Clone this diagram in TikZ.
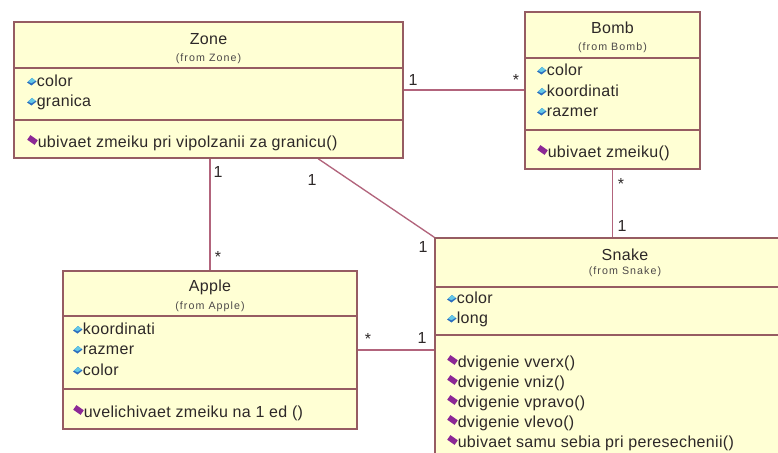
\documentclass[tikz,border=0pt]{standalone}
\usepackage{fontspec}
\setmainfont{Liberation Sans}
\usetikzlibrary{calc,backgrounds}
\definecolor{boxfill}{RGB}{255,255,212}
\definecolor{boxline}{RGB}{150,92,98}
\definecolor{assoc}{RGB}{178,100,124}
\definecolor{attrblue}{RGB}{45,110,190}
\definecolor{attrlight}{RGB}{100,200,230}
\definecolor{methpurple}{RGB}{140,40,150}
\definecolor{txtcol}{RGB}{45,40,40}
\newcommand\classbox[5]{%
  \node[classbox, minimum width={(#4-#2)*0.75pt}, minimum height={(#5-#3)*0.75pt}] (#1) at ({(#2+#4)/2},{(#3+#5)/2}) {};}
\newcommand\attrline[4]{%
  \fill[attrblue] (#2,#3+0.5) -- (#2+5,#3-4) -- (#2+9.5,#3-0.5) -- (#2+4.5,#3+3.5) -- cycle;
  \fill[attrlight] (#2+1.2,#3-0.3) -- (#2+5,#3-4) -- (#2+8.5,#3-1.2) -- (#2+4.5,#3+1.2) -- cycle;
  \node[txt, anchor=base west] (#1) at (#2+9.5,#3+4.5) {#4};}
\newcommand\methline[4]{%
  \fill[methpurple, rotate around={-35:(#2+4.5,#3-3)}] (#2,#3-5.8) rectangle (#2+9,#3-0.2);
  \node[txt, anchor=base west] (#1) at (#2+9.5,#3+4.5) {#4};}
\begin{document}
\begin{tikzpicture}[x=0.75pt,y=-0.75pt,
  classbox/.style={draw=boxline, fill=boxfill, line width=1.2pt, rectangle, inner sep=0pt},
  divider/.style={draw=boxline, line width=1.2pt},
  assocline/.style={draw=assoc, line width=1pt},
  txt/.style={font=\fontsize{12}{14}\selectfont\addfontfeature{LetterSpace=2}, inner sep=0pt, text=txtcol},
  titletxt/.style={font=\fontsize{12}{14}\selectfont\addfontfeature{LetterSpace=2}, inner sep=0pt, text=txtcol},
  fromtxt/.style={font=\fontsize{8}{10}\selectfont\addfontfeature{LetterSpace=10}, inner sep=0pt, text=txtcol!85},
  mult/.style={font=\fontsize{12}{14}\selectfont, inner sep=0pt, text=txtcol}]
\useasboundingbox (0,0) rectangle (778,453);
\clip (0,0) rectangle (778,453);

% ---- boxes ----
\classbox{zone}{14}{22}{403}{158}
\classbox{bomb}{525}{12}{700}{169}
\classbox{apple}{63}{271}{357}{429}
\classbox{snake}{435}{238}{815}{470}

% ---- connectors (behind boxes) ----
\begin{scope}[on background layer]
\fill[white] (0,0) rectangle (778,453);
\coordinate (zs) at ($(zone.south west)!0.781!(zone.south east)$);
\draw[assocline] (zone.east) -- (zone.east -| bomb.west);
\draw[assocline] (apple.north) -- (apple.north |- zone.south);
\draw[assocline] (zs) -- (snake.north west);
\draw[assocline] (bomb.south) -- (bomb.south |- snake.north);
\draw[assocline] (apple.east) -- (apple.east -| snake.west);
\end{scope}

% ---- Zone ----
\draw[divider] (zone.west |- 0,68) -- (zone.east |- 0,68);
\draw[divider] (zone.west |- 0,120) -- (zone.east |- 0,120);
\node[titletxt] (zonet) at (208.5,39) {Zone};
\node[fromtxt] (zonef) at (208.5,59) {(from Zone)};
\attrline{za1}{27}{82}{color}
\attrline{za2}{27}{102}{granica}
\methline{zm1}{28}{143}{ubivaet zmeiku pri vipolzanii za granicu()}

% ---- Bomb ----
\draw[divider] (bomb.west |- 0,58) -- (bomb.east |- 0,58);
\draw[divider] (bomb.west |- 0,130) -- (bomb.east |- 0,130);
\node[titletxt] (bombt) at (612.5,28) {Bomb};
\node[fromtxt] (bombf) at (612.5,48) {(from Bomb)};
\attrline{ba1}{537}{71}{color}
\attrline{ba2}{537}{92}{koordinati}
\attrline{ba3}{537}{112}{razmer}
\methline{bm1}{538}{153}{ubivaet zmeiku()}

% ---- Apple ----
\draw[divider] (apple.west |- 0,316) -- (apple.east |- 0,316);
\draw[divider] (apple.west |- 0,389) -- (apple.east |- 0,389);
\node[titletxt] (applet) at (210,287) {Apple};
\node[fromtxt] (applef) at (210,307) {(from Apple)};
\attrline{aa1}{73}{330}{koordinati}
\attrline{aa2}{73}{350}{razmer}
\attrline{aa3}{73}{371}{color}
\methline{am1}{74}{413}{uvelichivaet zmeiku na 1 ed ()}

% ---- Snake ----
\draw[divider] (snake.west |- 0,287) -- (snake.east |- 0,287);
\draw[divider] (snake.west |- 0,335) -- (snake.east |- 0,335);
\node[titletxt] (snaket) at (625,255) {Snake};
\node[fromtxt] (snakef) at (625,272) {(from Snake)};
\attrline{sa1}{447}{299}{color}
\attrline{sa2}{447}{319}{long}
\methline{sm1}{448}{363}{dvigenie vverx()}
\methline{sm2}{448}{383}{dvigenie vniz()}
\methline{sm3}{448}{403}{dvigenie vpravo()}
\methline{sm4}{448}{423}{dvigenie vlevo()}
\methline{sm5}{448}{443}{ubivaet samu sebia pri peresechenii()}

% ---- multiplicities ----
\node[mult] (m1) at (413,80) {1};
\node[mult] (m2) at (516,80) {*};
\node[mult] (m3) at (218,172) {1};
\node[mult] (m4) at (218,257) {*};
\node[mult] (m5) at (312,180) {1};
\node[mult] (m6) at (423,247) {1};
\node[mult] (m7) at (621,184) {*};
\node[mult] (m8) at (622,226) {1};
\node[mult] (m9) at (368,339) {*};
\node[mult] (m10) at (422,338) {1};
\end{tikzpicture}
\end{document}
